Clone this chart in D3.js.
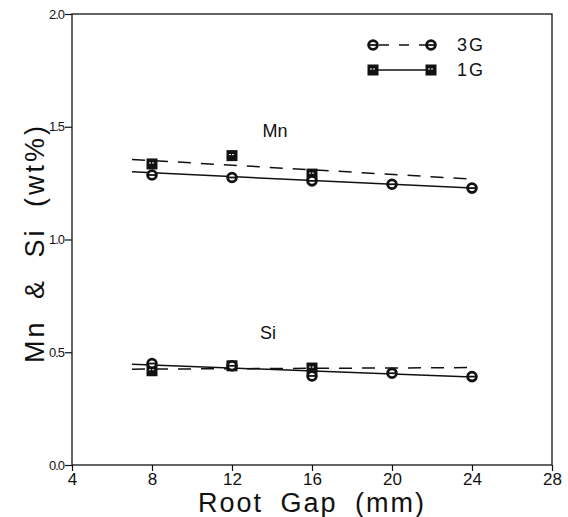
<!DOCTYPE html>
<html><head><meta charset="utf-8">
<script src="https://cdn.jsdelivr.net/npm/d3@7"></script>
<style>
html,body{margin:0;padding:0;background:#fff;}
svg{display:block;font-family:"Liberation Sans",Arial,sans-serif;}
</style></head>
<body>
<svg id="chart" width="568" height="517"></svg>
<script>
// ---- data ----
const xTicks = [4, 8, 12, 16, 20, 24, 28];
const yTicks = [0, 0.5, 1.0, 1.5, 2.0];
const yTickLabels = ["0.0", "0.5", "1.0", "1.5", "2.0"];
const gap3G = [8, 12, 16, 20, 24];
const mn3G = [1.286, 1.275, 1.26, 1.245, 1.228];
const si3G = [0.45, 0.44, 0.395, 0.407, 0.392];
const gap1G = [8, 12, 16];
const mn1G = [1.335, 1.372, 1.29];
const si1G = [0.418, 0.44, 0.43];
const fitX = [7, 24];
const mnSolid = [1.30, 1.228];
const mnDashed = [1.355, 1.268];
const siSolid = [0.447, 0.39];
const siDashed = [0.425, 0.432];
const seriesNames = ["3G", "1G"];

// ---- layout ----
const svg = d3.select("#chart");
const L = 72, R = 552, T = 14, B = 465;
const x = d3.scaleLinear().domain([4, 28]).range([L, R]);
const y = d3.scaleLinear().domain([0, 2]).range([B, T]);
const ink = "#111";

// frame
svg.append("rect").attr("x", L).attr("y", T).attr("width", R - L).attr("height", B - T)
  .attr("fill", "none").attr("stroke", ink).attr("stroke-width", 1.3);

// x axis
const xAxis = svg.append("g").attr("transform", `translate(0,${B})`)
  .call(d3.axisBottom(x).tickValues(xTicks).tickSize(6).tickPadding(2).tickFormat(d3.format("d")));
xAxis.select(".domain").remove();
xAxis.selectAll("line").attr("stroke", ink).attr("stroke-width", 1.2);
xAxis.selectAll("text").attr("font-size", 17).attr("fill", ink).attr("font-family", "Liberation Sans, Arial, sans-serif");

// y axis
const yAxis = svg.append("g").attr("transform", `translate(${L},0)`)
  .call(d3.axisLeft(y).tickValues(yTicks).tickSize(7).tickPadding(1).tickFormat((d, i) => yTickLabels[i]));
yAxis.select(".domain").remove();
yAxis.selectAll("line").attr("stroke", ink).attr("stroke-width", 1.2);
yAxis.selectAll("text").attr("font-size", 13).attr("fill", ink).attr("letter-spacing", -1).attr("font-family", "Liberation Sans, Arial, sans-serif");

// axis titles
svg.append("text").attr("x", 312).attr("y", 512).attr("text-anchor", "middle")
  .attr("font-size", 27).attr("letter-spacing", 2).attr("word-spacing", 8).attr("fill", ink)
  .text("Root Gap (mm)");
svg.append("text").attr("transform", "translate(44,243) rotate(-90)").attr("text-anchor", "middle")
  .attr("font-size", 27).attr("letter-spacing", 3).attr("word-spacing", 10).attr("fill", ink)
  .text("Mn & Si (wt%)");

// fit lines
const line = d3.line().x(d => x(d[0])).y(d => y(d[1]));
function fit(vals, dashed) {
  svg.append("path").datum(fitX.map((g, i) => [g, vals[i]])).attr("d", line)
    .attr("fill", "none").attr("stroke", ink).attr("stroke-width", 1.5)
    .attr("stroke-dasharray", dashed ? "13,10" : null);
}
fit(mnSolid, false); fit(mnDashed, true); fit(siSolid, false); fit(siDashed, true);

// markers
function circleMark(cx, cy) {
  const g = svg.append("g");
  g.append("circle").attr("cx", cx).attr("cy", cy).attr("r", 4.4)
    .attr("fill", "#fff").attr("stroke", ink).attr("stroke-width", 2.8);
  g.append("line").attr("x1", cx - 5).attr("x2", cx + 5).attr("y1", cy).attr("y2", cy)
    .attr("stroke", ink).attr("stroke-width", 1.8);
}
function squareMark(cx, cy) {
  const g = svg.append("g");
  g.append("rect").attr("x", cx - 5.5).attr("y", cy - 5.5).attr("width", 11).attr("height", 11).attr("fill", ink);
  g.append("line").attr("x1", cx - 3).attr("x2", cx + 3).attr("y1", cy - 1).attr("y2", cy - 1)
    .attr("stroke", "#fff").attr("stroke-width", 1).attr("stroke-dasharray", "2,1");
}
gap1G.forEach((g, i) => { squareMark(x(g), y(mn1G[i])); squareMark(x(g), y(si1G[i])); });
gap3G.forEach((g, i) => { circleMark(x(g), y(mn3G[i])); circleMark(x(g), y(si3G[i])); });

// group labels
svg.append("text").attr("x", 275).attr("y", 137).attr("text-anchor", "middle").attr("font-size", 18).attr("fill", ink).text("Mn");
svg.append("text").attr("x", 268).attr("y", 339).attr("text-anchor", "middle").attr("font-size", 18).attr("fill", ink).text("Si");

// legend
const lx1 = 373, lx2 = 431, ly = [45, 70];
svg.append("line").attr("x1", lx1).attr("x2", lx2).attr("y1", ly[0]).attr("y2", ly[0])
  .attr("stroke", ink).attr("stroke-width", 1.5).attr("stroke-dasharray", "10,10").attr("stroke-dashoffset", -6);
circleMark(lx1, ly[0]); circleMark(lx2, ly[0]);
svg.append("line").attr("x1", lx1).attr("x2", lx2).attr("y1", ly[1]).attr("y2", ly[1])
  .attr("stroke", ink).attr("stroke-width", 1.5);
squareMark(lx1, ly[1]); squareMark(lx2, ly[1]);
seriesNames.forEach((s, i) => {
  svg.append("text").attr("x", 457).attr("y", ly[i] + 6).attr("font-size", 18)
    .attr("letter-spacing", 2).attr("fill", ink).text(s);
});
</script>
</body></html>
